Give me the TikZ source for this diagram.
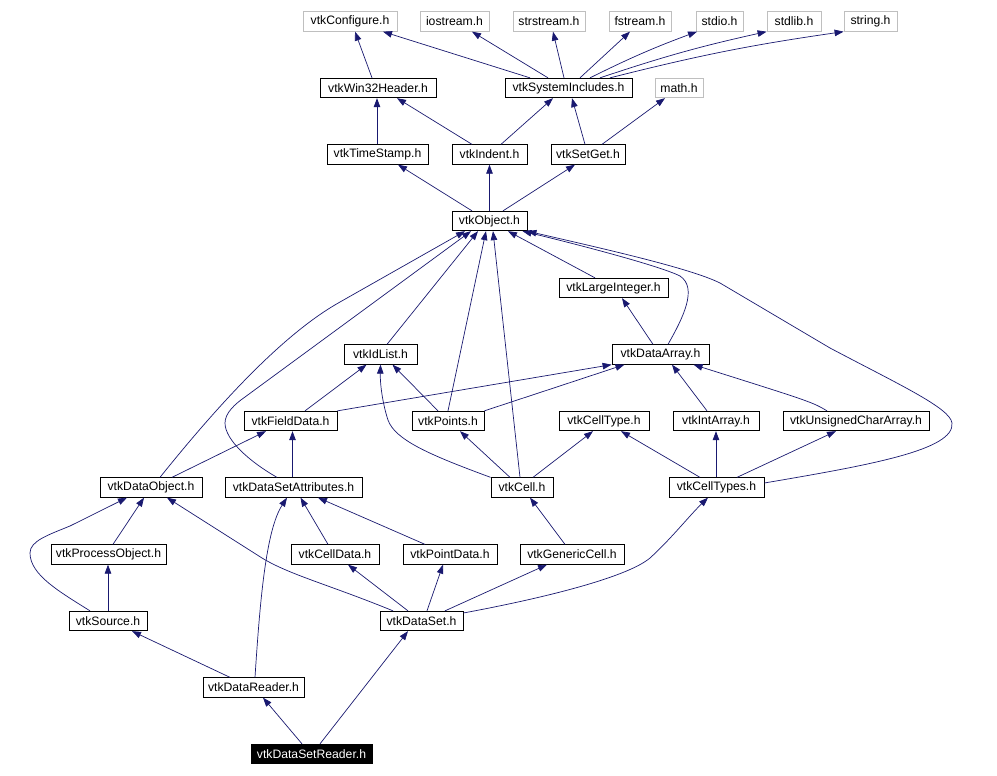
\documentclass[tikz,border=0pt]{standalone}
\usepackage{fontspec}
\setmainfont{Liberation Sans}
\usetikzlibrary{arrows.meta}
\definecolor{edgeblue}{HTML}{191970}
\definecolor{greyline}{HTML}{BFBFBF}
\begin{document}
\begin{tikzpicture}[x=1pt,y=-1pt,
  box/.style={draw=black, fill=white, line width=0.8pt, inner sep=0pt, minimum height=19.5pt, font=\fontsize{12.2}{14}\selectfont},
  ext/.style={box, draw=greyline},
  cur/.style={box, fill=black, text=white},
  edge/.style={draw=edgeblue, line width=0.7pt, -{Triangle[length=9pt,width=6.5pt]}},
]
\useasboundingbox (0,0) rectangle (997,776);
\fill[white] (0,0) rectangle (997,776);
% nodes
\node[ext, minimum width=94pt] (cfg) at (350,21.5) {vtkConfigure.h};
\node[ext, minimum width=69pt] (ios) at (454.5,21.5) {iostream.h};
\node[ext, minimum width=72pt] (sstr) at (549,21.5) {strstream.h};
\node[ext, minimum width=62pt] (fstr) at (640,21.5) {fstream.h};
\node[ext, minimum width=47pt] (stdio) at (719.5,21.5) {stdio.h};
\node[ext, minimum width=54pt] (stdlib) at (794,21.5) {stdlib.h};
\node[ext, minimum width=53pt] (string) at (870.5,21.5) {string.h};
\node[box, minimum width=116pt] (win32) at (378,88) {vtkWin32Header.h};
\node[box, minimum width=127pt] (sysinc) at (568.5,88) {vtkSystemIncludes.h};
\node[ext, minimum width=48pt] (math) at (679,88) {math.h};
\node[box, minimum width=101pt] (ts) at (377.5,154.5) {vtkTimeStamp.h};
\node[box, minimum width=75pt] (indent) at (489.5,154.5) {vtkIndent.h};
\node[box, minimum width=74pt] (setget) at (588,154.5) {vtkSetGet.h};
\node[box, minimum width=75pt] (obj) at (489.5,221) {vtkObject.h};
\node[box, minimum width=109pt] (large) at (613.5,288) {vtkLargeInteger.h};
\node[box, minimum width=73pt] (idlist) at (380.5,354.5) {vtkIdList.h};
\node[box, minimum width=97pt] (darray) at (660.5,354.5) {vtkDataArray.h};
\node[box, minimum width=93pt] (field) at (290.5,421) {vtkFieldData.h};
\node[box, minimum width=72pt] (points) at (448,421) {vtkPoints.h};
\node[box, minimum width=90pt] (celltype) at (604,421) {vtkCellType.h};
\node[box, minimum width=86pt] (intarr) at (716,421) {vtkIntArray.h};
\node[box, minimum width=146pt] (uchar) at (856,421) {vtkUnsignedCharArray.h};
\node[box, minimum width=102pt] (dobj) at (151,487.5) {vtkDataObject.h};
\node[box, minimum width=137pt] (dsa) at (293.5,487.5) {vtkDataSetAttributes.h};
\node[box, minimum width=62pt] (cell) at (522,487.5) {vtkCell.h};
\node[box, minimum width=95pt] (celltypes) at (716.5,487.5) {vtkCellTypes.h};
\node[box, minimum width=115pt] (procobj) at (108.5,554.5) {vtkProcessObject.h};
\node[box, minimum width=88pt] (celldata) at (335,554.5) {vtkCellData.h};
\node[box, minimum width=94pt] (pointdata) at (450,554.5) {vtkPointData.h};
\node[box, minimum width=104pt] (generic) at (572,554.5) {vtkGenericCell.h};
\node[box, minimum width=78pt] (source) at (108,621) {vtkSource.h};
\node[box, minimum width=83pt] (dataset) at (421.5,621) {vtkDataSet.h};
\node[box, minimum width=101pt] (dreader) at (253.5,687.5) {vtkDataReader.h};
\node[cur, minimum width=121pt] (dsreader) at (311.5,754) {vtkDataSetReader.h};
% edges: top rows
\draw[edge] ([xshift=-6pt]win32.north) -- ([xshift=5pt]cfg.south);
\draw[edge] ([xshift=-38.5pt]sysinc.north) -- ([xshift=33pt]cfg.south);
\draw[edge] ([xshift=-20.5pt]sysinc.north) -- ([xshift=17.5pt]ios.south);
\draw[edge] ([xshift=-4.5pt]sysinc.north) -- ([xshift=4pt]sstr.south);
\draw[edge] ([xshift=11.5pt]sysinc.north) -- ([xshift=-10pt]fstr.south);
\draw[edge] ([xshift=21.5pt]sysinc.north) to[bend left=3] ([xshift=-22.5pt]stdio.south);
\draw[edge] ([xshift=31.5pt]sysinc.north) to[bend left=3] (stdlib.south west);
\draw[edge] ([xshift=41.5pt]sysinc.north) to[bend left=3] (string.south west);
\draw[edge] ([xshift=-0.5pt]ts.north) -- ([xshift=-1pt]win32.south);
\draw[edge] ([xshift=-17.5pt]indent.north) -- ([xshift=19pt]win32.south);
\draw[edge] ([xshift=11.5pt]indent.north) -- ([xshift=-15.5pt]sysinc.south);
\draw[edge] ([xshift=-3pt]setget.north) -- ([xshift=3.5pt]sysinc.south);
\draw[edge] ([xshift=14pt]setget.north) -- ([xshift=-14pt]math.south);
\draw[edge] ([xshift=-17.5pt]obj.north) -- ([xshift=20.5pt]ts.south);
\draw[edge] (obj.north) -- (indent.south);
\draw[edge] ([xshift=13.5pt]obj.north) -- ([xshift=-13pt]setget.south);
% edges to vtkObject
\draw[edge] ([xshift=-18.5pt]large.north) -- ([xshift=18.5pt]obj.south);
\draw[edge] ([xshift=7.5pt]darray.north) .. controls (683,318) and (698,288) .. (680,276) .. controls (660,266) and (580,245) .. ([xshift=33pt]obj.south);
\draw[edge] ([yshift=4.5pt]celltypes.east) .. controls (870,465) and (955,450) .. (952,423) .. controls (950,408) and (900,385) .. (830,348) -- (720,283) .. controls (690,268) and (600,248) .. (obj.south east);
\draw[edge] ([xshift=-2pt]cell.north) -- ([xshift=3.5pt]obj.south);
\draw[edge] (points.north) -- ([xshift=-3.5pt]obj.south);
\draw[edge] ([xshift=6.5pt]idlist.north) -- ([xshift=-11.5pt]obj.south);
\draw[edge] ([xshift=-16.5pt]dsa.north) .. controls (250,462) and (225,440) .. (225,423) .. controls (225,413) and (235,404) .. (245,397) -- ([xshift=-18.5pt]obj.south);
\draw[edge] ([xshift=9pt]dobj.north) .. controls (230,390) and (290,330) .. (340,302) -- ([xshift=-24.5pt]obj.south);
% middle
\draw[edge] ([xshift=-7.5pt]darray.north) -- ([xshift=8.5pt]large.south);
\draw[edge] ([xshift=14.5pt]field.north) -- ([xshift=-14pt]idlist.south);
\draw[edge] ([xshift=-10pt]points.north) -- ([xshift=12pt]idlist.south);
\draw[edge] (cell.north west) .. controls (430,455) and (395,440) .. (388,420) .. controls (383,405) and (380,385) .. (idlist.south);
\draw[edge] (field.north east) -- (darray.south west);
\draw[edge] (points.north east) -- ([xshift=-36pt]darray.south);
\draw[edge] ([xshift=-9pt]intarr.north) -- ([xshift=11.5pt]darray.south);
\draw[edge] ([xshift=-29pt]uchar.north) .. controls (812,402) .. ([xshift=33pt]darray.south);
\draw[edge] ([xshift=21pt]dobj.north) -- ([xshift=-24.5pt]field.south);
\draw[edge] ([xshift=-1pt]dsa.north) -- ([xshift=2pt]field.south);
\draw[edge] ([xshift=-12pt]cell.north) -- ([xshift=12pt]points.south);
\draw[edge] ([xshift=11pt]cell.north) -- ([xshift=-11pt]celltype.south);
\draw[edge] ([xshift=-16.5pt]celltypes.north) -- ([xshift=17pt]celltype.south);
\draw[edge] ([xshift=-0.5pt]celltypes.north) -- (intarr.south);
\draw[edge] ([xshift=20.5pt]celltypes.north) -- ([xshift=-20pt]uchar.south);
% lower
\draw[edge] ([xshift=4.5pt]procobj.north) -- ([xshift=-7pt]dobj.south);
\draw[edge] ([xshift=-18pt]source.north) .. controls (60,592) and (30,575) .. (30,553) .. controls (30,541) and (48,535) .. (70,526) -- ([xshift=-24pt]dobj.south);
\draw[edge] ([xshift=-28.5pt]dataset.north) .. controls (330,585) and (290,575) .. (262,558) -- ([xshift=16pt]dobj.south);
\draw[edge] ([xshift=1.5pt]dreader.north) .. controls (260,600) and (266,530) .. ([xshift=-6.5pt]dsa.south);
\draw[edge] ([xshift=-7pt]celldata.north) -- ([xshift=7pt]dsa.south);
\draw[edge] ([xshift=-25pt]pointdata.north) -- ([xshift=24.5pt]dsa.south);
\draw[edge] ([xshift=-7pt]generic.north) -- ([xshift=8pt]cell.south);
\draw[edge] ([yshift=8pt]dataset.east) .. controls (560,595) and (630,575) .. (650,558) .. controls (670,540) and (690,515) .. ([xshift=-8.5pt]celltypes.south);
\draw[edge] (source.north) -- ([xshift=-0.5pt]procobj.south);
\draw[edge] ([xshift=-13.5pt]dataset.north) -- ([xshift=13pt]celldata.south);
\draw[edge] ([xshift=5.5pt]dataset.north) -- ([xshift=-7pt]pointdata.south);
\draw[edge] ([xshift=23.5pt]dataset.north) -- ([xshift=-25pt]generic.south);
\draw[edge] ([xshift=-23.5pt]dreader.north) -- ([xshift=24pt]source.south);
\draw[edge] ([xshift=-9.5pt]dsreader.north) -- ([xshift=9.5pt]dreader.south);
\draw[edge] ([xshift=8.5pt]dsreader.north) -- ([xshift=-13.5pt]dataset.south);
\end{tikzpicture}
\end{document}
